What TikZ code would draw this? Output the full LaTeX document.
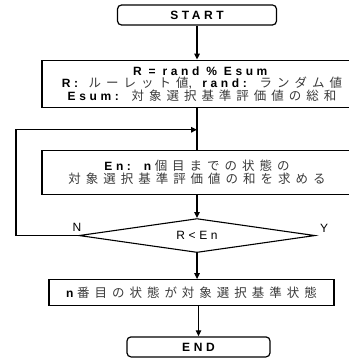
\documentclass[tikz,border=0pt]{standalone}
\usepackage{fontspec}
\setmainfont[LetterSpace=30]{Liberation Sans}
\newfontfamily\jpfont[LetterSpace=40,Scale=1.04]{Noto Sans CJK JP}
\usepackage{xcolor}
\usetikzlibrary{arrows.meta, positioning, shapes.geometric}
\definecolor{cline}{HTML}{000000}
\definecolor{cjk}{HTML}{3A3A3A}
\newcommand{\jp}[1]{{\jpfont\color{cjk}#1}}
\tikzset{
  box/.style={
    draw=cline, fill=white, line width=1.2pt,
    align=center, inner sep=3pt,
    font=\fontsize{12pt}{12.5pt}\selectfont,
  },
  term/.style={box, rounded corners=4pt, minimum height=20pt,
    font=\fontsize{12pt}{12.5pt}\selectfont\bfseries},
  dec/.style={
    diamond, aspect=6.5, draw=cline, line width=1.1pt,
    minimum width=236pt, minimum height=34pt, inner sep=0pt,
    font=\fontsize{12pt}{12.5pt}\selectfont,
  },
  lbl/.style={font=\fontsize{12pt}{12.5pt}\selectfont, inner sep=0pt},
  wire/.style={line width=1.3pt, color=cline},
  arr/.style={
    -{Triangle[length=6pt,width=5.5pt]},
    line width=1.3pt, color=cline,
  },
}
\begin{document}
\begin{tikzpicture}[x=1pt, y=-1pt]
\useasboundingbox (0,0) rectangle (348,358);

%% ── START / roulette value ────────────────────────────────
\node[term, minimum width=159pt] (start) at (197,15) {START};

\node[box, minimum width=320pt, minimum height=47pt,
      below=34pt of start, xshift=5pt] (rnd) {%
  \textbf{R = rand \% Esum}\\
  \textbf{R:} \jp{ルーレット値}, \textbf{rand:} \jp{ランダム値}\\
  \textbf{Esum:} \jp{対象選択基準評価値の総和}%
};

%% ── loop body ─────────────────────────────────────────────
\node[box, minimum width=310pt, minimum height=44pt,
      below=42pt of rnd, xshift=-5pt] (sum) {%
  \textbf{En:} \textbf{n}\jp{個目までの状態の}\\
  \jp{対象選択基準評価値の和を求める}%
};
\coordinate[above=20pt of sum.north] (join);
\coordinate (loopx) at (16,0);

\node[dec, below=23pt of sum] (cond) {R<En};
\node[lbl, anchor=south] (nlab) at ([xshift=-1.5pt, yshift=4pt]cond.west) {N};
\node[lbl, anchor=south] (ylab) at ([xshift=8.5pt, yshift=3pt]cond.east) {Y};

%% ── result / END ──────────────────────────────────────────
\node[box, minimum width=285pt, minimum height=26pt,
      below=26pt of cond, xshift=-5.5pt] (pick) {%
  \textbf{n}\jp{番目の状態が対象選択基準状態}%
};
\node[term, minimum width=143pt, below=30pt of pick, xshift=7pt] (stop) {END};

%% ── Arrows ────────────────────────────────────────────────
\draw[arr]  (start) -- (start |- rnd.north);
\draw[wire] (start |- rnd.south) -- (sum);
\draw[arr]  (sum) -- (cond);
\draw[arr]  (cond) -- (cond |- pick.north);
\draw[arr]  (pick.south -| stop) -- (stop);
\draw[arr]  (cond.west) -- (cond.west -| loopx) |- (join);

\end{tikzpicture}
\end{document}
